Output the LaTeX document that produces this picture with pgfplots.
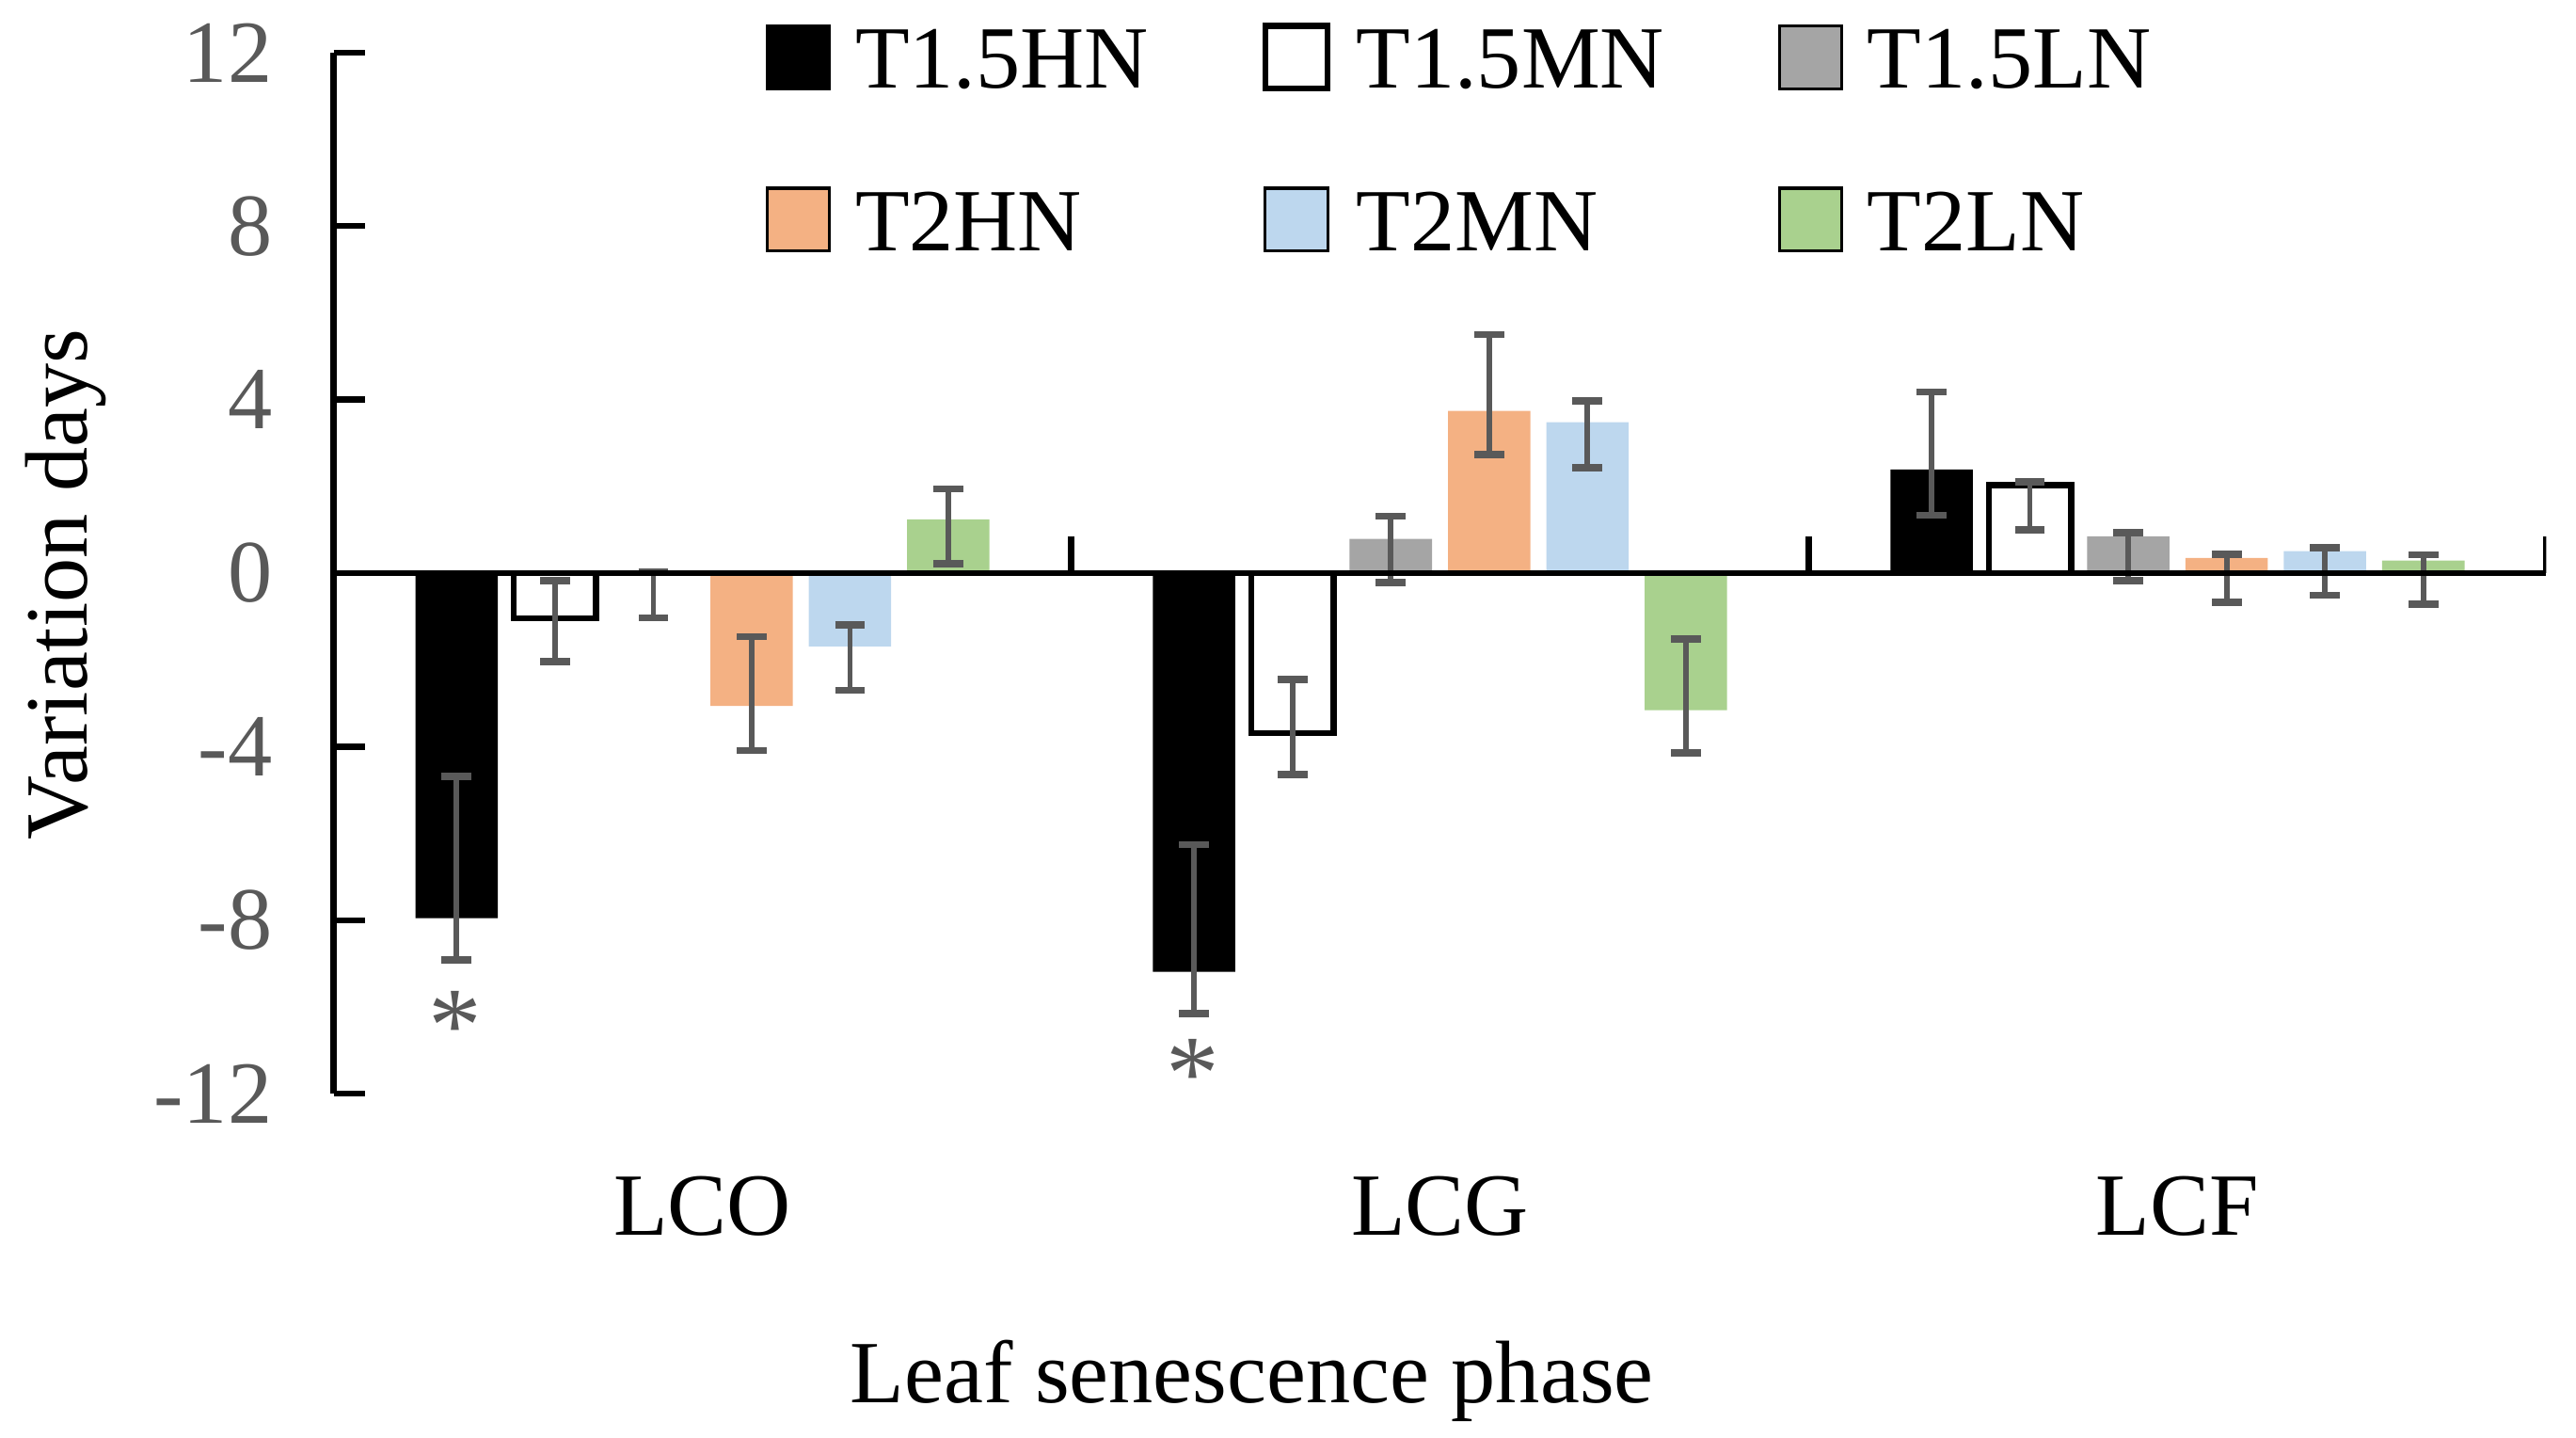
\documentclass[12pt,border=0pt]{standalone}
\usepackage{fontspec}
\setmainfont{Liberation Serif}
\usepackage{pgfplots}
\usepackage{pgfplotstable}
\pgfplotsset{compat=1.18}

\definecolor{lngray}{HTML}{A5A5A5}
\definecolor{hnorange}{HTML}{F4B183}
\definecolor{mnblue}{HTML}{BDD7EE}
\definecolor{lngreen}{HTML}{A9D18E}
\definecolor{errgray}{HTML}{595959}

% x: 0=LCO, 1=LCG, 2=LCF ; ep/em = upper/lower error bar lengths
\pgfplotstableread{
x y ep em
0 -7.95 3.26 0.96
1 -9.19 2.93 0.96
2 2.39 1.79 1.06
}\dataA
\pgfplotstableread{
x y ep em
0 -1.04 0.87 1.00
1 -3.69 1.24 0.95
2 2.03 0.08 1.03
}\dataB
\pgfplotstableread{
x y ep em
0 0.00 0.02 1.03
1 0.79 0.52 1.01
2 0.85 0.08 1.02
}\dataC
\pgfplotstableread{
x y ep em
0 -3.06 1.60 1.03
1 3.74 1.76 1.01
2 0.35 0.09 1.02
}\dataD
\pgfplotstableread{
x y ep em
0 -1.69 0.50 1.01
1 3.48 0.49 1.05
2 0.51 0.08 1.02
}\dataE
\pgfplotstableread{
x y ep em
0 1.24 0.70 1.02
1 -3.16 1.64 0.98
2 0.29 0.13 1.01
}\dataF

\begin{document}
\fontsize{12.5}{15}\selectfont
\begin{tikzpicture}[font=\fontsize{12.5}{15}\selectfont]
\path[use as bounding box] (-47pt,-48.4pt) rectangle (315.8pt,154pt);
\begin{axis}[
  at={(0,0)}, anchor=south west,
  width=311.6pt, height=146.6pt, scale only axis,
  xmin=-0.5, xmax=2.5, ymin=-12, ymax=12,
  axis y line*=left, axis x line*=bottom,
  x axis line style={draw=none},
  y axis line style={-, line width=0.85pt, black},
  ytick={-12,-8,-4,0,4,8,12},
  xtick={0,1,2}, xticklabels={LCO,LCG,LCF},
  xtick style={draw=none},
  ytick style={line width=0.85pt, black},
  tick align=inside, major tick length=4.4pt,
  tick label style={font=\fontsize{12.5}{15}\selectfont},
  label style={font=\fontsize{12.5}{15}\selectfont},
  yticklabel style={text=errgray, xshift=-4.3pt},
  /pgf/number format/assume math mode=true,
  xticklabel style={anchor=center, yshift=-11.5pt},
  xlabel={Leaf senescence phase},
  xlabel style={at={([yshift=-40.4pt]rel axis cs:0.415,0)}, anchor=center},
  ylabel={Variation days},
  ylabel style={at={([xshift=-37.7pt,yshift=-1.6pt]rel axis cs:0,0.5)}, anchor=center},
  ybar=2.25pt, bar width=11.6pt,
  error bars/y dir=both, error bars/y explicit,
  error bars/error bar style={errgray, line width=0.75pt},
  error bars/error mark options={errgray, line width=1pt, mark size=2.1pt, rotate=90},
  legend columns=3,
  legend cell align=left,
  legend image code/.code={\draw[#1] (0pt,-3.2pt) rectangle (8.8pt,5.6pt); \path (10.4pt,1.2pt);},
  legend style={draw=none, fill=none, at={([yshift=3.0pt]rel axis cs:0.185,1.03)}, anchor=north west,
    font=\fontsize{12.5}{15}\selectfont,
    row sep=8.7pt, /tikz/every even column/.append style={column sep=14.0pt}},
]
\addplot[fill=black, draw=none] table[x=x, y=y, y error plus=ep, y error minus=em] {\dataA};
\addlegendentry{T1.5HN}
\addplot[fill=white, draw=black, line width=0.85pt] table[x=x, y=y, y error plus=ep, y error minus=em] {\dataB};
\addlegendentry{T1.5MN}
\addplot[fill=lngray, draw=none] table[x=x, y=y, y error plus=ep, y error minus=em] {\dataC};
\addlegendentry{T1.5LN}
\addplot[fill=hnorange, draw=none] table[x=x, y=y, y error plus=ep, y error minus=em] {\dataD};
\addlegendentry{T2HN}
\addplot[fill=mnblue, draw=none] table[x=x, y=y, y error plus=ep, y error minus=em] {\dataE};
\addlegendentry{T2MN}
\addplot[fill=lngreen, draw=none] table[x=x, y=y, y error plus=ep, y error minus=em] {\dataF};
\addlegendentry{T2LN}
\draw[black, line width=0.85pt] (axis cs:-0.5,0) -- (axis cs:2.5,0);
\draw[black, line width=0.85pt] (axis cs:0.5,0) -- ++(0pt,5.2pt);
\draw[black, line width=0.85pt] (axis cs:1.5,0) -- ++(0pt,5.2pt);
\draw[black, line width=0.85pt] (axis cs:2.5,0) -- ++(0pt,5.2pt);
\node[text=errgray, anchor=center, font=\fontsize{15}{17}\selectfont] at (axis cs:-0.335,-10.45) {*};
\node[text=errgray, anchor=center, font=\fontsize{15}{17}\selectfont] at (axis cs:0.665,-11.56) {*};
\end{axis}
\end{tikzpicture}
\end{document}
